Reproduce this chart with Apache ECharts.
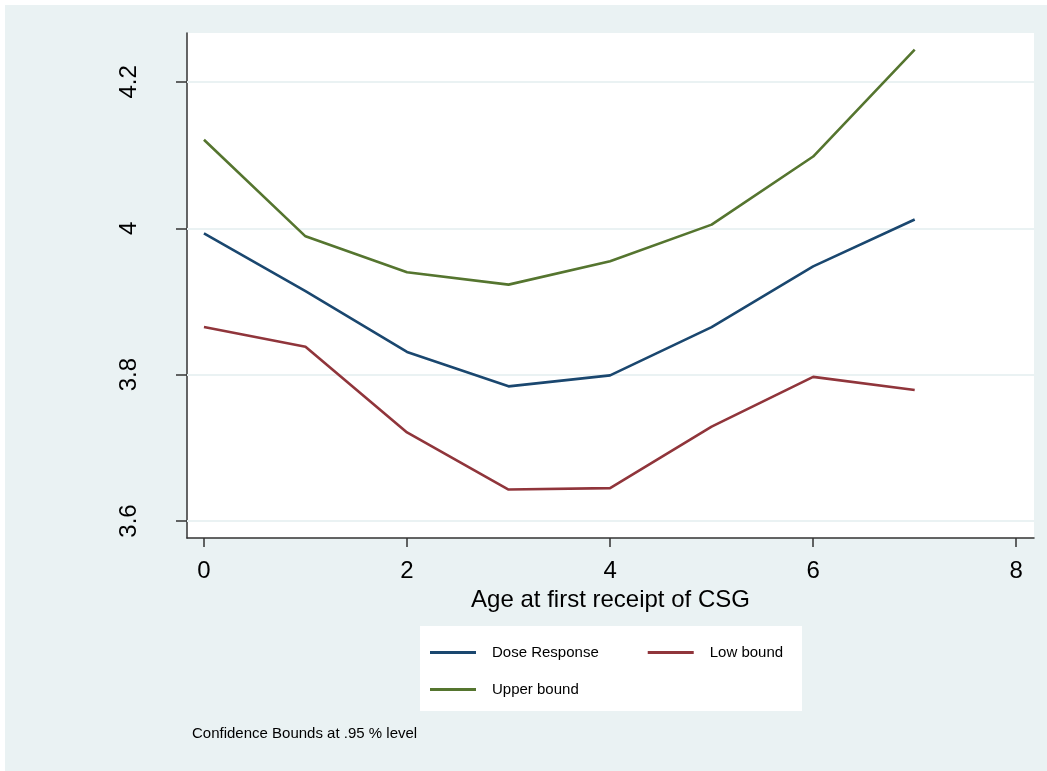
<!DOCTYPE html>
<html>
<head>
<meta charset="utf-8">
<title>Dose response by age at first receipt of CSG</title>
<script src="https://cdn.jsdelivr.net/npm/echarts@6/dist/echarts.min.js"></script>
<style>
    html, body { margin: 0; padding: 0; background: #ffffff; }
    #chart { position: absolute; left: 5px; top: 5px; width: 1042px; height: 766px; }
</style>
</head>
<body>
<div id="chart"></div>
<script>
    // age at first receipt
    var ages = [0, 1, 2, 3, 4, 5, 6, 7];
    var doseResponse = [3.993, 3.914, 3.831, 3.784, 3.799, 3.865, 3.948, 4.012];
    var lowBound = [3.865, 3.838, 3.721, 3.643, 3.645, 3.729, 3.797, 3.779];
    var upperBound = [4.121, 3.989, 3.940, 3.923, 3.955, 4.005, 4.098, 4.244];
    var xTicks = [0, 2, 4, 6, 8];
    var yTicks = [3.6, 3.8, 4, 4.2];

    var FONT = '"Liberation Sans", Arial, sans-serif';
    var BG = '#EAF2F3';

    function pairs(ys) {
        return ages.map(function(a, i) { return [a, ys[i]]; });
    }

    function lineSeries(name, color, ys) {
        return {
            name: name,
            type: 'line',
            data: pairs(ys),
            symbol: 'none',
            z: 3,
            lineStyle: { color: color, width: 2.6 },
            itemStyle: { color: color },
            animation: false
        };
    }

    var legendText = { fontFamily: FONT, fontSize: 15, color: '#000', padding: [0, 0, 0, 11] };

    var chart = echarts.init(document.getElementById('chart'));

    chart.setOption({
        backgroundColor: BG,
        animation: false,
        grid: {
            left: 182, top: 28, width: 847, height: 505,
            show: true, backgroundColor: '#ffffff', borderWidth: 0
        },
        xAxis: {
            type: 'value',
            min: -0.167, max: 8.175,
            name: 'Age at first receipt of CSG',
            nameLocation: 'middle',
            nameGap: 49,
            nameTextStyle: { fontFamily: FONT, fontSize: 24, color: '#000' },
            axisLine: { show: true, onZero: false, lineStyle: { color: '#333', width: 1.5 } },
            axisTick: { show: true, length: 9, customValues: xTicks, lineStyle: { color: '#333', width: 1.5 } },
            axisLabel: { customValues: xTicks, margin: 21, fontFamily: FONT, fontSize: 24, color: '#000' },
            splitLine: { show: false }
        },
        yAxis: {
            type: 'value',
            min: 3.5768, max: 4.2668,
            axisLine: { show: true, onZero: false, lineStyle: { color: '#333', width: 1.5 } },
            axisTick: { show: true, length: 11, customValues: yTicks, lineStyle: { color: '#333', width: 1.5 } },
            axisLabel: {
                customValues: yTicks, rotate: 90, margin: 46,
                fontFamily: FONT, fontSize: 24, color: '#000',
                formatter: function(v) { return String(+v.toFixed(1)); }
            },
            splitLine: { show: false }
        },
        legend: [
            {
                data: ['Dose Response', 'Low bound'],
                left: 420, top: 635,
                itemWidth: 46, itemHeight: 3, itemGap: 49,
                icon: 'rect',
                textStyle: legendText
            },
            {
                data: ['Upper bound'],
                left: 420, top: 672,
                itemWidth: 46, itemHeight: 3,
                icon: 'rect',
                textStyle: legendText
            }
        ],
        graphic: [
            {
                type: 'rect', z: -1,
                shape: { x: 415, y: 621, width: 382, height: 85 },
                style: { fill: '#ffffff' }
            },
            {
                type: 'text',
                left: 187, top: 721,
                style: { text: 'Confidence Bounds at .95 % level', font: '15px ' + FONT, fill: '#000' }
            }
        ],
        series: [
            {
                // horizontal reference lines at tick values
                type: 'line', data: [], z: 1, silent: true,
                markLine: {
                    silent: true, symbol: 'none', animation: false, z: 1,
                    label: { show: false },
                    lineStyle: { color: BG, width: 2, type: 'solid' },
                    data: yTicks.map(function(v) { return { yAxis: v }; })
                }
            },
            lineSeries('Dose Response', '#1A476F', doseResponse),
            lineSeries('Low bound', '#90353B', lowBound),
            lineSeries('Upper bound', '#55752F', upperBound)
        ]
    });
</script>
</body>
</html>
